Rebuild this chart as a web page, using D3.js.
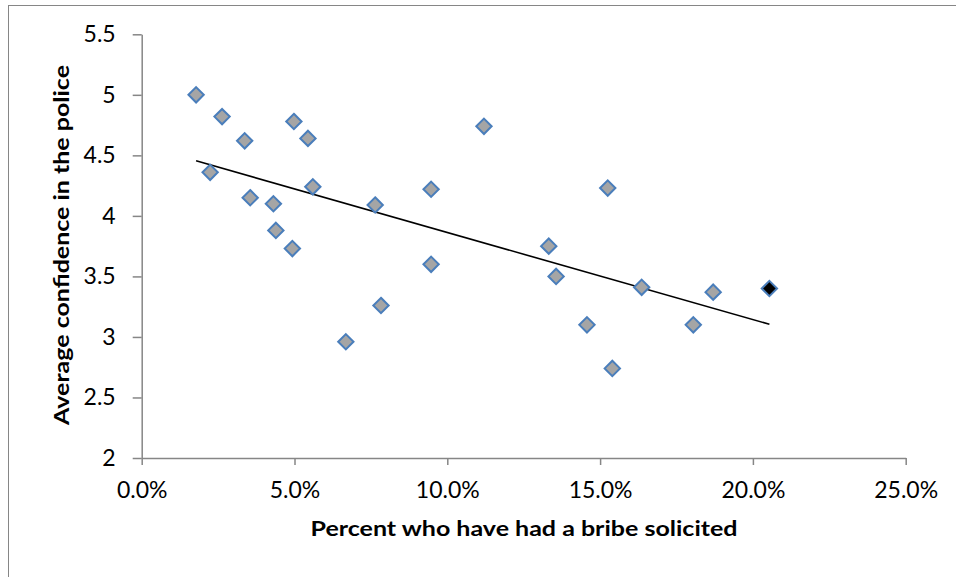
<!DOCTYPE html>
<html><head><meta charset="utf-8">
<script src="https://cdn.jsdelivr.net/npm/d3@7"></script>
<style>body{margin:0;background:#fff}svg{display:block}</style>
</head><body>
<script>
const bribePct = [1.78,2.24,2.63,3.37,3.55,4.31,4.39,4.93,4.98,5.44,5.60,6.68,7.64,7.83,9.47,9.47,11.20,13.32,13.56,14.57,15.25,15.40,16.36,18.05,18.70,20.54];
const confidence = [5.00,4.36,4.82,4.62,4.15,4.10,3.88,3.73,4.78,4.64,4.24,2.96,4.09,3.26,4.22,3.60,4.74,3.75,3.50,3.10,4.23,2.74,3.41,3.10,3.37,3.40];
const highlighted = [false,false,false,false,false,false,false,false,false,false,false,false,false,false,false,false,false,false,false,false,false,false,false,false,false,true];
const xTicks = [0,5,10,15,20,25];
const yTicks = [2,2.5,3,3.5,4,4.5,5,5.5];
const xTitle = "Percent who have had a bribe solicited";
const yTitle = "Average confidence in the police";

const W=956,H=577;
const svg=d3.select("body").append("svg").attr("width",W).attr("height",H);
svg.append("rect").attr("x",8.5).attr("y",5.5).attr("width",1000).attr("height",1000)
  .attr("fill","none").attr("stroke","#868686").attr("stroke-width",1);

const x=d3.scaleLinear().domain([0,25]).range([141.7,905.7]);
const y=d3.scaleLinear().domain([2,5.5]).range([458,34.3]);
const FONT="Lato, 'Open Sans', sans-serif";
const axisCol="#868686";

const xAxis=svg.append("g").attr("transform","translate(0,458)")
  .call(d3.axisBottom(x).tickValues(xTicks).tickSize(7).tickSizeOuter(0).tickPadding(17).tickFormat(d=>d.toFixed(1)+"%"));
const yAxis=svg.append("g").attr("transform","translate(141.7,0)")
  .call(d3.axisLeft(y).tickValues(yTicks).tickSize(9).tickSizeOuter(0).tickPadding(17).tickFormat(d=>String(d)));
[xAxis,yAxis].forEach(g=>{
  g.select(".domain").attr("stroke",axisCol).attr("stroke-width",1.5);
  g.selectAll(".tick line").attr("stroke",axisCol).attr("stroke-width",1.5);
  g.selectAll("text").attr("fill","#000").style("font-family",FONT).style("font-size","23px");
});

// trend line (least squares)
const n=bribePct.length;
const mx=d3.mean(bribePct), my=d3.mean(confidence);
let sxy=0,sxx=0;
for(let i=0;i<n;i++){sxy+=(bribePct[i]-mx)*(confidence[i]-my);sxx+=(bribePct[i]-mx)**2;}
const slope=sxy/sxx, icpt=my-slope*mx;
const x0=d3.min(bribePct), x1=d3.max(bribePct);
svg.append("line").attr("x1",x(x0)).attr("y1",y(icpt+slope*x0)).attr("x2",x(x1)).attr("y2",y(icpt+slope*x1))
  .attr("stroke","#000").attr("stroke-width",1.6);

const sym=d3.symbol().type(d3.symbolDiamond2).size(150);
svg.append("g").selectAll("path").data(bribePct.map((v,i)=>({x:v,y:confidence[i],h:highlighted[i]})))
  .join("path").attr("d",sym)
  .attr("transform",d=>`translate(${x(d.x)},${y(d.y)})`)
  .attr("fill",d=>d.h?"#000":"#a5a5a5")
  .attr("stroke","#4a7ebb").attr("stroke-width",2);

svg.append("text").attr("x",524).attr("y",536).attr("text-anchor","middle")
  .style("font-family",FONT).style("font-size","21px").style("font-weight","bold")
  .attr("textLength",427).attr("lengthAdjust","spacingAndGlyphs").text(xTitle);
svg.append("text").attr("transform","translate(69,245) rotate(-90)").attr("text-anchor","middle")
  .style("font-family",FONT).style("font-size","21px").style("font-weight","bold")
  .attr("textLength",360).attr("lengthAdjust","spacingAndGlyphs").text(yTitle);
</script>
</body></html>
